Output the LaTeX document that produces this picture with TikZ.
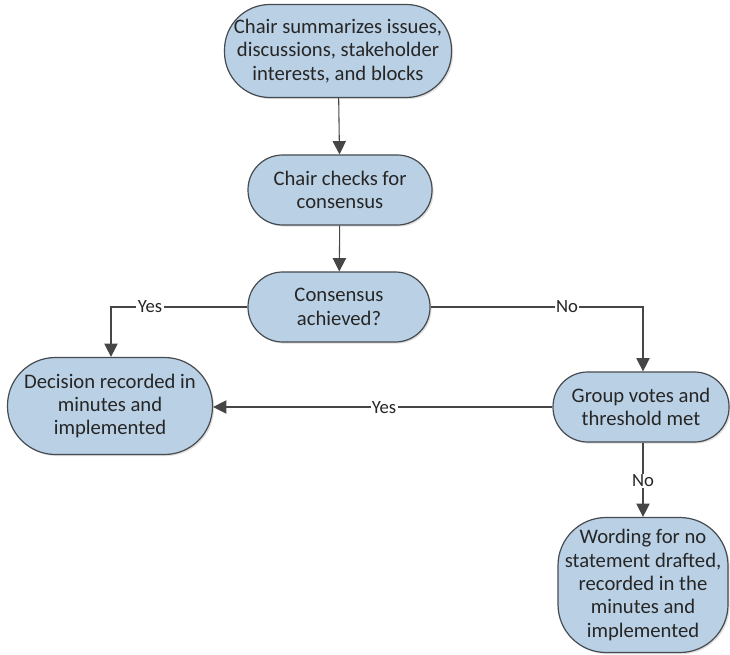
\documentclass[tikz,border=0pt]{standalone}
\usepackage{fontspec}
\setmainfont{Carlito}
\usetikzlibrary{arrows.meta,shadows}
\definecolor{boxfill}{RGB}{186,208,229}
\definecolor{boxline}{RGB}{70,75,80}
\definecolor{lineclr}{RGB}{70,70,70}
\tikzset{
  proc/.style={draw=boxline, line width=0.9pt, fill=boxfill, align=center,
    font=\fontsize{15.5}{17.5}\selectfont, text=black!85, inner sep=1pt,
    drop shadow={shadow xshift=1.2pt, shadow yshift=-1.2pt, opacity=0.25}},
  conn/.style={draw=lineclr, line width=0.8pt, -{Triangle[width=10pt,length=10pt]}},
  lbl/.style={fill=white, inner sep=1pt, font=\fontsize{14}{15}\selectfont, text=black!85}
}
\begin{document}
\begin{tikzpicture}[x=0.75pt,y=-0.75pt]
\useasboundingbox (0,0) rectangle (730,655);
\node[proc, minimum width=227*0.75pt, minimum height=93*0.75pt, rounded corners=34pt] (n1) at (338,51)
  {Chair summarizes issues,\\discussions, stakeholder\\interests, and blocks};
\node[proc, minimum width=184*0.75pt, minimum height=70*0.75pt, rounded corners=26pt] (n2) at (340,190)
  {Chair checks for\\consensus};
\node[proc, minimum width=182*0.75pt, minimum height=70*0.75pt, rounded corners=26pt] (n3) at (339,307)
  {Consensus\\achieved?};
\node[proc, minimum width=205*0.75pt, minimum height=97*0.75pt, rounded corners=36pt] (n4) at (110,406)
  {Decision recorded in\\minutes and\\implemented};
\node[proc, minimum width=176*0.75pt, minimum height=70*0.75pt, rounded corners=26pt] (n5) at (641,407)
  {Group votes and\\threshold met};
\node[proc, minimum width=170*0.75pt, minimum height=135*0.75pt, rounded corners=36pt] (n6) at (643,585)
  {Wording for no\\statement drafted,\\recorded in the\\minutes and\\implemented};
\coordinate (cyes) at (111,307);
\coordinate (cno) at (643,307);
\draw[conn] (n1) -- (n2);
\draw[conn] (n2) -- (n3);
\draw[conn] (n3.west) -- (cyes) -- (cyes |- n4.north);
\draw[conn] (n3.east) -- (cno) -- (cno |- n5.north);
\draw[conn] (n5.west) -- (n4.east |- n5.west);
\draw[conn] (n5.south -| n6.north) -- (n6.north);
\node[lbl] (lyes1) at (150,307) {Yes};
\node[lbl] (lno1) at (567,307) {No};
\node[lbl] (lyes2) at (384,408) {Yes};
\node[lbl] (lno2) at (643,481) {No};
\end{tikzpicture}
\end{document}
